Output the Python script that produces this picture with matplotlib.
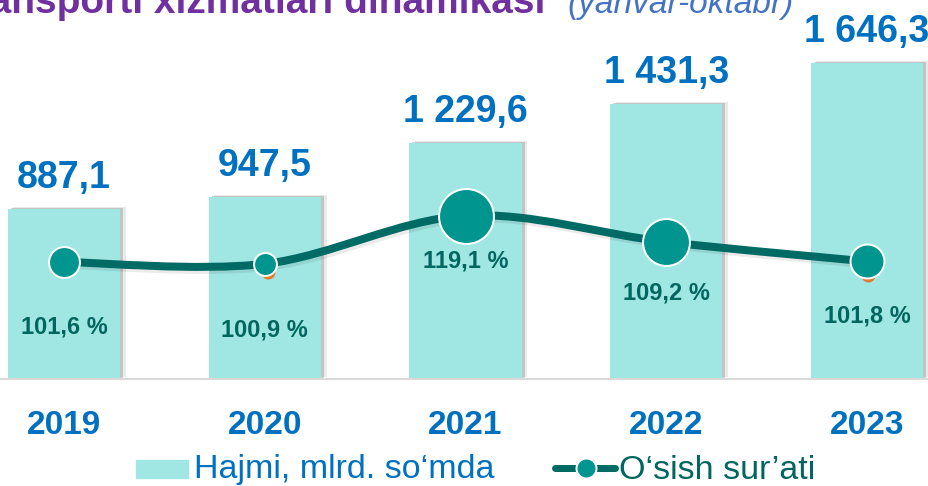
import numpy as np
import matplotlib
matplotlib.use("Agg")
import matplotlib.pyplot as plt
import matplotlib.transforms as mtransforms
from matplotlib import patheffects as pe
from matplotlib.path import Path
from matplotlib.patches import PathPatch, Rectangle
from matplotlib.lines import Line2D

plt.rcParams["font.family"] = ["Liberation Sans", "DejaVu Sans"]

# data
years = ["2019", "2020", "2021", "2022", "2023"]
volume = [887.1, 947.5, 1229.6, 1431.3, 1646.3]
volume_labels = ["887,1", "947,5", "1 229,6", "1 431,3", "1 646,3"]
growth = [101.6, 100.9, 119.1, 109.2, 101.8]
growth_labels = ["101,6 %", "100,9 %", "119,1 %", "109,2 %", "101,8 %"]

# styles
BAR_COLOR = "#A0E7E3"
BLUE = "#0070C0"
DARK_TEAL = "#00665F"
LINE_COLOR = "#006A65"
TEAL = "#00958F"
PURPLE = "#7030A0"
LIGHT_BLUE = "#4472C4"

marker_px = [33, 25, 57, 49, 36]        # marker diameters (px)
label_drop_px = [65, 66, 45, 51, 55]    # growth label offset below marker (px)
orange_shift_px = {1: (3, -8), 4: (1, -14)}

W, H = 929, 486
fig = plt.figure(figsize=(W / 100, H / 100), dpi=100)
PX = 72 / 100  # points per pixel

ax = fig.add_axes([0, (H - 379) / H, 1, 379 / H])
x = np.arange(len(years))

bars = ax.bar(x, volume, width=0.56, color=BAR_COLOR, zorder=2)
for b in bars:
    b.set_path_effects([
        pe.SimplePatchShadow(offset=(4, 1.5), shadow_rgbFace="#707070", alpha=0.15),
        pe.SimplePatchShadow(offset=(2.2, 0.8), shadow_rgbFace="#707070", alpha=0.3),
        pe.Normal(),
    ])

ax.set_xlim(-0.319, 4.309)
ax.set_ylim(0, 1975)
for s in ["top", "left", "right"]:
    ax.spines[s].set_visible(False)
ax.spines["bottom"].set_color("#D9D9D9")
ax.spines["bottom"].set_linewidth(1.5)
ax.spines["bottom"].set_zorder(3)
ax.set_xticks([])
ax.set_yticks([])

for xi, v, lab in zip(x, volume, volume_labels):
    ax.annotate(lab, (xi, v), xytext=(0, 21 * PX), textcoords="offset points",
                ha="center", va="baseline", fontsize=27, fontweight="bold",
                color=BLUE, annotation_clip=False)

year_tr = mtransforms.blended_transform_factory(ax.transData, fig.transFigure)
for xi, yr in zip(x, years):
    ax.text(xi, (H - 434) / H, yr, transform=year_tr, ha="center", va="baseline",
            fontsize=24, fontweight="bold", color=BLUE, clip_on=False)

# growth line on a secondary axis
ax2 = ax.twinx()
ax2.set_ylim(57.33, 200.73)
ax2.set_xlim(ax.get_xlim())
for s in ax2.spines.values():
    s.set_visible(False)
ax2.set_yticks([])


def smooth_path(xs, ys):
    pts = np.column_stack([xs, ys]).astype(float)
    p = np.vstack([pts[0], pts, pts[-1]])
    verts = [pts[0]]
    codes = [Path.MOVETO]
    for i in range(1, len(p) - 2):
        c1 = p[i] + (p[i + 1] - p[i - 1]) / 6
        c2 = p[i + 1] - (p[i + 2] - p[i]) / 6
        verts += [c1, c2, p[i + 1]]
        codes += [Path.CURVE4] * 3
    return Path(verts, codes)


curve = PathPatch(smooth_path(x, growth), facecolor="none", edgecolor=LINE_COLOR,
                  lw=8 * PX, capstyle="round", zorder=3)
curve.set_path_effects([
    pe.Stroke(linewidth=10 * PX, foreground="#000000", alpha=0.08, offset=(1.5, -1.5)),
    pe.Normal(),
])
ax2.add_patch(curve)

# small orange marks peeking from behind two markers
for i, (dx, dy) in orange_shift_px.items():
    shift = mtransforms.ScaledTranslation(dx / 100, dy / 100, fig.dpi_scale_trans)
    ax2.plot(x[i], growth[i], "o", ms=14 * PX, color="#E07A2E", mew=0,
             transform=ax2.transData + shift, zorder=4)

for xi, g, d in zip(x, growth, marker_px):
    ax2.plot(xi, g, "o", ms=d * PX - 1.5, color=TEAL, mec="white", mew=2 * PX,
             zorder=5)

for xi, g, lab, dy in zip(x, growth, growth_labels, label_drop_px):
    ax2.annotate(lab, (xi, g), xytext=(0, -dy * PX), textcoords="offset points",
                 ha="center", va="center", fontsize=17, fontweight="bold",
                 color=DARK_TEAL, zorder=6)

# title (clipped at the top of the picture, as in the source)
fig.text(545 / W, (H - 13) / H, "Temir yo‘l transporti xizmatlari dinamikasi",
         ha="right", va="baseline", fontsize=28, fontweight="bold", color=PURPLE)
fig.text(567 / W, (H - 13) / H, "(yanvar-oktabr)", ha="left", va="baseline",
         fontsize=24, fontstyle="italic", color=LIGHT_BLUE)

# legend
fig.patches.append(Rectangle((136 / W, (H - 478) / H), 52 / W, 18 / H,
                             transform=fig.transFigure, color=BAR_COLOR))
fig.text(194 / W, (H - 478) / H, "Hajmi, mlrd. so‘mda", ha="left", va="baseline",
         fontsize=24.5, color=BLUE)
fig.lines.append(Line2D([555 / W, 615 / W], [(H - 468) / H] * 2, transform=fig.transFigure,
                        color=LINE_COLOR, lw=7 * PX, solid_capstyle="round"))
fig.lines.append(Line2D([586 / W], [(H - 468) / H], transform=fig.transFigure,
                        marker="o", ms=20 * PX, color=TEAL, mec="white", mew=2 * PX))
fig.text(619 / W, (H - 479) / H, "O‘sish sur’ati", ha="left", va="baseline",
         fontsize=24.5, color=DARK_TEAL)

fig.savefig("out.png", dpi=100)
